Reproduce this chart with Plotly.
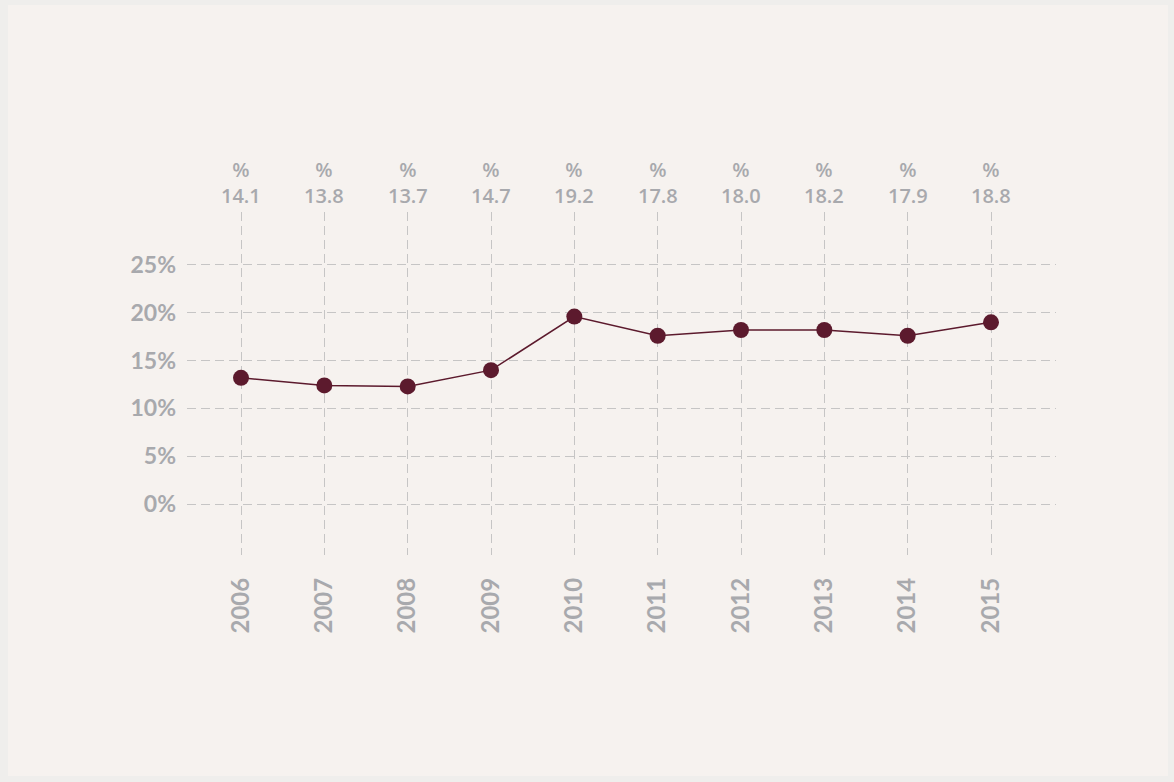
import plotly.graph_objects as go

years = ["2006", "2007", "2008", "2009", "2010", "2011", "2012", "2013", "2014", "2015"]
values = [13.2, 12.4, 12.3, 14.0, 19.6, 17.6, 18.2, 18.2, 17.6, 19.0]
top_labels = ["14.1", "13.8", "13.7", "14.7", "19.2", "17.8", "18.0", "18.2", "17.9", "18.8"]
y_ticks = [0, 5, 10, 15, 20, 25]
y_tick_text = ["0%", "5%", "10%", "15%", "20%", "25%"]

W, H = 1174, 782
L, R, T, B = 187, 118, 212, 227
xs = list(range(len(years)))

GRAY = "#a8a9ad"
GRID = "#c6c5c5"
LINE = "#5c1a2d"
BG = "#f6f2ef"

fig = go.Figure()
fig.add_trace(go.Scatter(
    x=xs, y=values, mode="lines+markers",
    line=dict(color=LINE, width=1.5),
    marker=dict(color=LINE, size=16),
    hoverinfo="skip", showlegend=False,
))

for i, lab in enumerate(top_labels):
    fig.add_annotation(x=i, y=1, xref="x", yref="paper", text="%<br>" + lab, showarrow=False,
                       yanchor="bottom", yshift=1,
                       font=dict(family="Open Sans", size=20, color=GRAY, weight=600))

# outer frame
pw, ph = W - L - R, H - T - B
def px_x(p):
    return (p - L) / pw
def px_y(p):
    return (H - B - p) / ph
fig.add_shape(type="rect", xref="paper", yref="paper", layer="below",
              x0=px_x(8), x1=px_x(1168), y0=px_y(776), y1=px_y(5),
              fillcolor=BG, line=dict(width=0))

fig.update_layout(
    width=W, height=H,
    margin=dict(l=L, r=R, t=T, b=B, pad=0),
    paper_bgcolor="#efeeec",
    plot_bgcolor="rgba(0,0,0,0)",
    xaxis=dict(
        range=[-0.648, 9.78], tickmode="array", tickvals=xs, ticktext=years,
        tickangle=-90, showgrid=True, gridcolor=GRID, griddash="9px,5px", gridwidth=1.3,
        zeroline=False, showline=False, ticks="", ticklabelstandoff=17,
        tickfont=dict(family="Lato", size=24, color=GRAY, weight="bold"),
        fixedrange=True,
    ),
    yaxis=dict(
        range=[-5.33, 30.54], tickmode="array", tickvals=y_ticks, ticktext=y_tick_text,
        showgrid=True, gridcolor=GRID, griddash="9px,5px", gridwidth=1.3,
        zeroline=False, showline=False, ticks="", ticklabelstandoff=10,
        tickfont=dict(family="Lato", size=23, color=GRAY, weight="bold"),
        fixedrange=True,
    ),
)

fig.write_html("out.html", config={"displayModeBar": False},
               post_script="document.body.style.margin='0px';")
